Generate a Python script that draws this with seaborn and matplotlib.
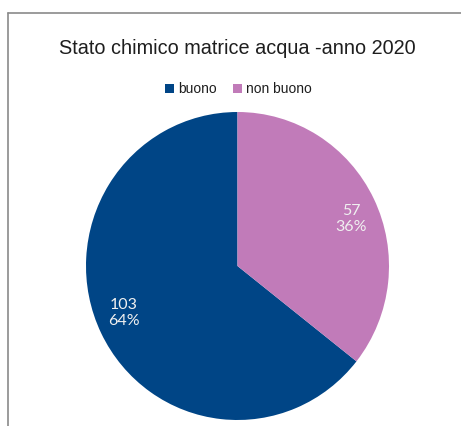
import matplotlib
matplotlib.use("Agg")
import matplotlib.pyplot as plt
from matplotlib.lines import Line2D
import numpy as np
import seaborn as sns

# Stato chimico della matrice acqua, anno 2020
categories = ["buono", "non buono"]
counts = [103, 57]
colors = ["#004586", "#C17BB9"]
title = "Stato chimico matrice acqua -anno 2020"

sns.set_theme(style="white")
plt.rcParams["font.family"] = ["Liberation Sans", "DejaVu Sans"]

W, H = 461, 426
fig = plt.figure(figsize=(W / 100, H / 100), dpi=100)
fig.patch.set_facecolor("white")

# axes holding the pie: centre (237.5, 266) from the top, radii 151.5 x 154 px
cx, cy, rx, ry = 237.5, 266, 151.5, 154
ax = fig.add_axes([(cx - rx) / W, (H - cy - ry) / H, 2 * rx / W, 2 * ry / H])

total = sum(counts)


def fmt(pct):
    return f"{round(pct * total / 100)}\n{pct:.0f}%"


wedges, _, autotexts = ax.pie(
    counts,
    colors=colors,
    startangle=90,
    counterclock=True,
    autopct=fmt,
    pctdistance=0.81,
    wedgeprops=dict(linewidth=0),
    textprops=dict(color="#f0f0f0", fontsize=11.5, family=["Lato", "DejaVu Sans"],
                   linespacing=1.15),
)

# place each value label slightly clockwise of its wedge's bisector
for w, t in zip(wedges, autotexts):
    ang = np.deg2rad((w.theta1 + w.theta2) / 2 - 3.8)
    t.set_position((0.81 * np.cos(ang), 0.81 * np.sin(ang)))

ax.set_xlim(-1, 1)
ax.set_ylim(-1, 1)
ax.set_aspect("auto")
ax.axis("off")

fig.text(237 / W, 1 - 48 / H, title, ha="center", va="center",
         fontsize=14.3, color="#1e1e1e")

fig.legend(wedges, categories, loc="center", bbox_to_anchor=(238.5 / W, 1 - 89 / H),
           ncol=2, frameon=False, fontsize=10, handlelength=0.6, handleheight=0.6,
           handletextpad=0.3, columnspacing=1.2, labelcolor="#1e1e1e")

# chart frame (left and top edges)
frame_col = "#8a8a8a"
fig.add_artist(Line2D([7.5 / W, 7.5 / W], [0, 1 - 13 / H], color=frame_col, lw=1.2,
                      transform=fig.transFigure))
fig.add_artist(Line2D([7.5 / W, 1], [1 - 13 / H, 1 - 13 / H], color=frame_col, lw=1.2,
                      transform=fig.transFigure))

fig.savefig("out.png", dpi=100)
